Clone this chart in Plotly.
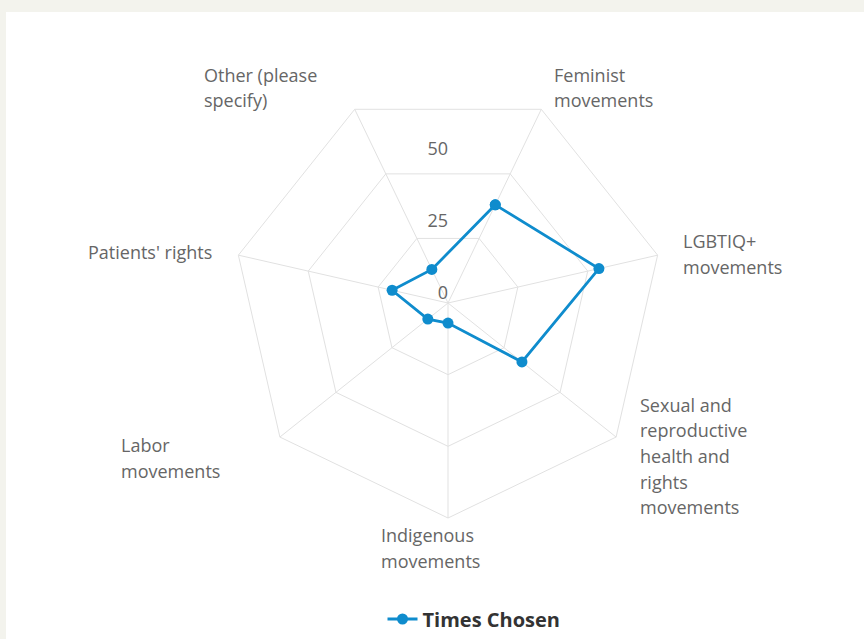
import plotly.graph_objects as go

categories = [
    "Feminist movements",
    "LGBTIQ+ movements",
    "Sexual and reproductive health and rights movements",
    "Indigenous movements",
    "Labor movements",
    "Patients' rights",
    "Other (please specify)",
]
tick_labels = [
    "Feminist<br>movements",
    "LGBTIQ+<br>movements",
    "Sexual and<br>reproductive<br>health and<br>rights<br>movements",
    "Indigenous<br>movements",
    "Labor<br>movements",
    "Patients' rights",
    "Other (please<br>specify)",
]
times_chosen = [38, 54, 33, 7, 9, 20, 13]
radial_ticks = [0, 25, 50]
radial_range = [0, 75]
series_name = "Times Chosen"

# layout: pixel anchor (left x, first-line centre y) of each category label
label_anchor_px = [(552, 75), (681, 241), (638, 405), (379, 535), (119, 445), (86, 252), (202, 75)]
LINE_PX = 25.5

W, H = 864, 639
BLUE = "#0f8ccd"
GRID = "#e1e1e1"
TXT = "#666666"
FONT = "Open Sans"

fig = go.Figure()
fig.add_trace(go.Scatterpolar(
    r=times_chosen + [times_chosen[0]],
    theta=categories + [categories[0]],
    mode="lines+markers",
    name=series_name,
    line=dict(color=BLUE, width=2.8),
    marker=dict(color=BLUE, size=11),
    subplot="polar",
))
# radial tick labels drawn straight up (north) on an overlaid, invisible polar scale
fig.add_trace(go.Scatterpolar(
    r=radial_ticks,
    theta=[90] * len(radial_ticks),
    mode="text",
    text=[str(v) for v in radial_ticks],
    textposition="top left",
    textfont=dict(size=18, color=TXT, family=FONT),
    showlegend=False,
    hoverinfo="skip",
    subplot="polar2",
))

annotations = []
for text, (lx, ly) in zip(tick_labels, label_anchor_px):
    for i, line in enumerate(text.split("<br>")):
        annotations.append(dict(
            text=line, showarrow=False, xref="paper", yref="paper",
            x=lx / W, y=1 - (ly + i * LINE_PX) / H, xanchor="left", yanchor="middle",
            font=dict(size=18, color=TXT, family=FONT),
        ))

cx, cy, R = 448, 303, 215
domain = dict(x=[(cx - R) / W, (cx + R) / W], y=[(H - cy - R) / H, (H - cy + R) / H])
fig.update_layout(
    width=W, height=H,
    margin=dict(l=0, r=0, t=0, b=0),
    paper_bgcolor="#f3f3ed",
    font=dict(family=FONT, color=TXT, size=18),
    shapes=[dict(type="rect", xref="paper", yref="paper", x0=6 / W, x1=1, y0=0, y1=(H - 12) / H,
                 fillcolor="white", line=dict(width=0), layer="below")],
    annotations=annotations,
    polar=dict(
        domain=domain,
        bgcolor="rgba(0,0,0,0)",
        gridshape="linear",
        angularaxis=dict(
            direction="clockwise",
            rotation=90 - 360 / 14,
            tickvals=categories,
            showticklabels=False,
            showline=True, linecolor=GRID, linewidth=1,
            gridcolor=GRID, gridwidth=1,
            ticks="",
        ),
        radialaxis=dict(
            range=radial_range,
            tickvals=radial_ticks,
            showticklabels=False,
            showline=False,
            ticks="",
            gridcolor=GRID, gridwidth=1,
        ),
    ),
    polar2=dict(
        domain=domain,
        bgcolor="rgba(0,0,0,0)",
        angularaxis=dict(visible=False, rotation=0, direction="counterclockwise"),
        radialaxis=dict(visible=False, range=radial_range),
    ),
    showlegend=True,
    legend=dict(orientation="h", x=474 / W, xanchor="center", y=(H - 619) / H, yanchor="middle",
                font=dict(size=20, color="#333333", family=FONT, weight="bold"),
                bgcolor="rgba(0,0,0,0)"),
)
fig.write_html("out.html", config={"displayModeBar": False},
               post_script="document.body.style.margin='0';")
